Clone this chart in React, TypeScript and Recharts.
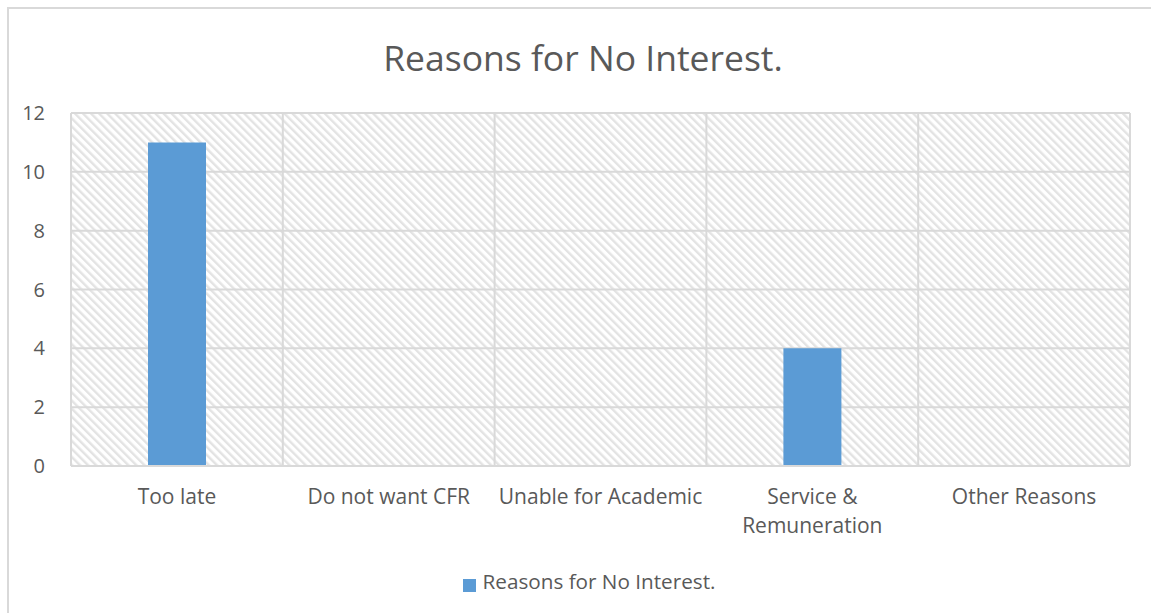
import React from "react";
import { Bar, BarChart, CartesianGrid, Legend, XAxis, YAxis } from "recharts";

const categories = [
  "Too late",
  "Do not want CFR",
  "Unable for Academic",
  "Service & Remuneration",
  "Other Reasons",
];
const values = [11, 0, 0, 4, 0];
const yTicks = [0, 2, 4, 6, 8, 10, 12];
const seriesName = "Reasons for No Interest.";

const TEXT = "#595959";
const GRID = "#d9d9d9";
const BLUE = "#5b9bd5";
const FONT = "'Open Sans', sans-serif";

const data = categories.map((name, i) => ({ name, value: values[i] }));

// splits "Service & Remuneration" the way Excel wrapped it
function CategoryTick({ x, y, payload }: any) {
  const label: string = payload.value;
  const lines = label.includes("&")
    ? label.split("& ").map((s, i, arr) => (i < arr.length - 1 ? s + "&" : s))
    : [label];
  return (
    <g transform={`translate(${x},${y})`}>
      <text textAnchor="middle" fill={TEXT} fontSize={21} fontFamily={FONT}>
        {lines.map((l, i) => (
          <tspan key={i} x={0} y={36 + i * 29}>
            {l}
          </tspan>
        ))}
      </text>
    </g>
  );
}

export default function App() {
  return (
    <div style={{ position: "absolute", left: 0, top: 0, width: 1151, height: 613, background: "#fff", overflow: "hidden" }}>
      <svg width={0} height={0} style={{ position: "absolute" }}>
        <defs>
          <pattern id="hatch" patternUnits="userSpaceOnUse" width={5.7} height={5.7} patternTransform="rotate(-45)">
            <rect x={0} y={0} width={5.7} height={5.7} fill="#ffffff" />
            <rect x={0} y={0} width={2.4} height={5.7} fill="#e3e3e3" />
          </pattern>
        </defs>
      </svg>
      <div
        style={{
          position: "absolute",
          left: 7,
          top: 7,
          width: 1160,
          height: 620,
          border: `2px solid ${GRID}`,
          boxSizing: "border-box",
        }}
      />
      <div
        style={{
          position: "absolute",
          left: 0,
          top: 33,
          width: 1166,
          textAlign: "center",
          fontFamily: FONT,
          fontSize: 35.5,
          lineHeight: "48px",
          color: TEXT,
        }}
      >
        {seriesName}
      </div>
      <div style={{ position: "absolute", left: 0, top: 0 }}>
        <BarChart
          width={1151}
          height={613}
          data={data}
          margin={{ top: 113, right: 21, left: 0, bottom: 18 }}
          barCategoryGap={0}
        >
          <CartesianGrid
            stroke={GRID}
            strokeWidth={2}
            fill="url(#hatch)"
            fillOpacity={1}
            verticalCoordinatesGenerator={({ offset }: any) =>
              categories.map((_, i) => offset.left + (i * offset.width) / categories.length).concat(offset.left + offset.width)
            }
          />
          <XAxis
            dataKey="name"
            height={101}
            tickLine={false}
            tickSize={0}
            axisLine={{ stroke: GRID, strokeWidth: 2 }}
            tick={<CategoryTick />}
            interval={0}
          />
          <YAxis
            width={71}
            domain={[0, 12]}
            ticks={yTicks}
            tickLine={false}
            tickSize={0}
            tickMargin={26}
            axisLine={false}
            tick={{ fill: TEXT, fontSize: 20, fontFamily: FONT }}
          />
          <Legend
            verticalAlign="bottom"
            iconType="square"
            iconSize={13}
            wrapperStyle={{ left: 29 }}
            formatter={(v: string) => (
              <span style={{ color: TEXT, fontSize: 20.7, fontFamily: FONT, marginLeft: 3 }}>{v}</span>
            )}
          />
          <Bar dataKey="value" name={seriesName} fill={BLUE} barSize={58} isAnimationActive={false} />
        </BarChart>
      </div>
    </div>
  );
}
